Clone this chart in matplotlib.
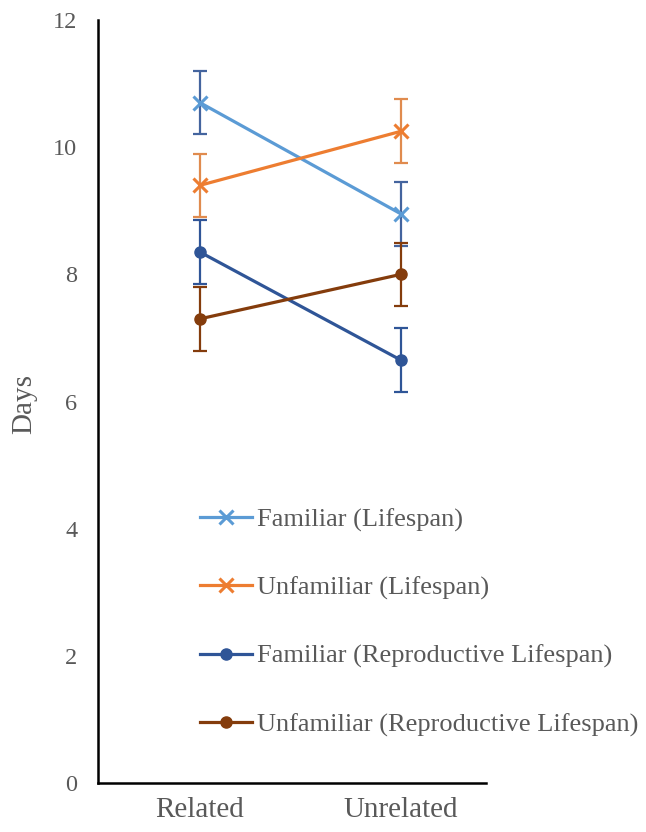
import matplotlib
matplotlib.use("Agg")
import matplotlib.pyplot as plt

# Group means (days) and their error half-widths
groups = ["Related", "Unrelated"]
familiar_lifespan = [10.7, 8.95]
unfamiliar_lifespan = [9.4, 10.25]
familiar_repro = [8.35, 6.65]
unfamiliar_repro = [7.3, 8.0]
err_familiar_lifespan = [0.5, 0.5]
err_unfamiliar_lifespan = [0.5, 0.5]
err_familiar_repro = [0.5, 0.5]
err_unfamiliar_repro = [0.5, 0.5]

series = [
    ("Familiar (Lifespan)", familiar_lifespan, err_familiar_lifespan,
     "#5B9BD5", "#44649E", "x"),
    ("Unfamiliar (Lifespan)", unfamiliar_lifespan, err_unfamiliar_lifespan,
     "#ED7D31", "#E08B4E", "x"),
    ("Familiar (Reproductive Lifespan)", familiar_repro, err_familiar_repro,
     "#2F5597", "#2F5597", "o"),
    ("Unfamiliar (Reproductive Lifespan)", unfamiliar_repro, err_unfamiliar_repro,
     "#843C0C", "#843C0C", "o"),
]

plt.rcParams["font.family"] = ["Liberation Serif", "DejaVu Serif"]
text_color = "#595959"

fig = plt.figure(figsize=(6.46, 8.32), dpi=100)
ax = fig.add_axes([98 / 646, 1 - 783 / 832, (486 - 98) / 646, (783 - 20) / 832])

xs = list(range(len(groups)))
handles = []
for label, vals, errs, color, ecolor, marker in series:
    ax.errorbar(xs, vals, yerr=errs, fmt="none", ecolor=ecolor,
                elinewidth=1.6, capsize=5, capthick=1.6, zorder=2)
    if marker == "x":
        h, = ax.plot(xs, vals, color=color, lw=2.3, marker="x",
                     markersize=10, markeredgewidth=2.2, label=label, zorder=3)
    else:
        h, = ax.plot(xs, vals, color=color, lw=2.3, marker="o",
                     markersize=8, label=label, zorder=3)
    handles.append(h)

ax.set_xlim(-102 / 201, (486 - 200) / 201)
ax.set_ylim(0, 12)
ax.set_yticks(range(0, 13, 2))
ax.set_xticks(xs)
ax.set_xticklabels(groups)
ax.tick_params(axis="both", length=0, labelcolor=text_color)
ax.tick_params(axis="x", labelsize=21, pad=10)
ax.tick_params(axis="y", labelsize=17.5, pad=15)

for side in ("top", "right"):
    ax.spines[side].set_visible(False)
for side in ("left", "bottom"):
    ax.spines[side].set_linewidth(1.8)
    ax.spines[side].set_color("black")

fig.text(24 / 646, 1 - 404 / 832, "Days", rotation=90, ha="center",
         va="center", fontsize=21, color=text_color)

fig.legend(handles=handles, loc="upper left",
           bbox_to_anchor=(200 / 646, 1 - 508 / 832),
           frameon=False, fontsize=19, labelcolor=text_color,
           handlelength=1.98, handletextpad=0.19, labelspacing=1.68,
           borderpad=0, borderaxespad=0)

fig.savefig("out.png", dpi=100, facecolor="white")
